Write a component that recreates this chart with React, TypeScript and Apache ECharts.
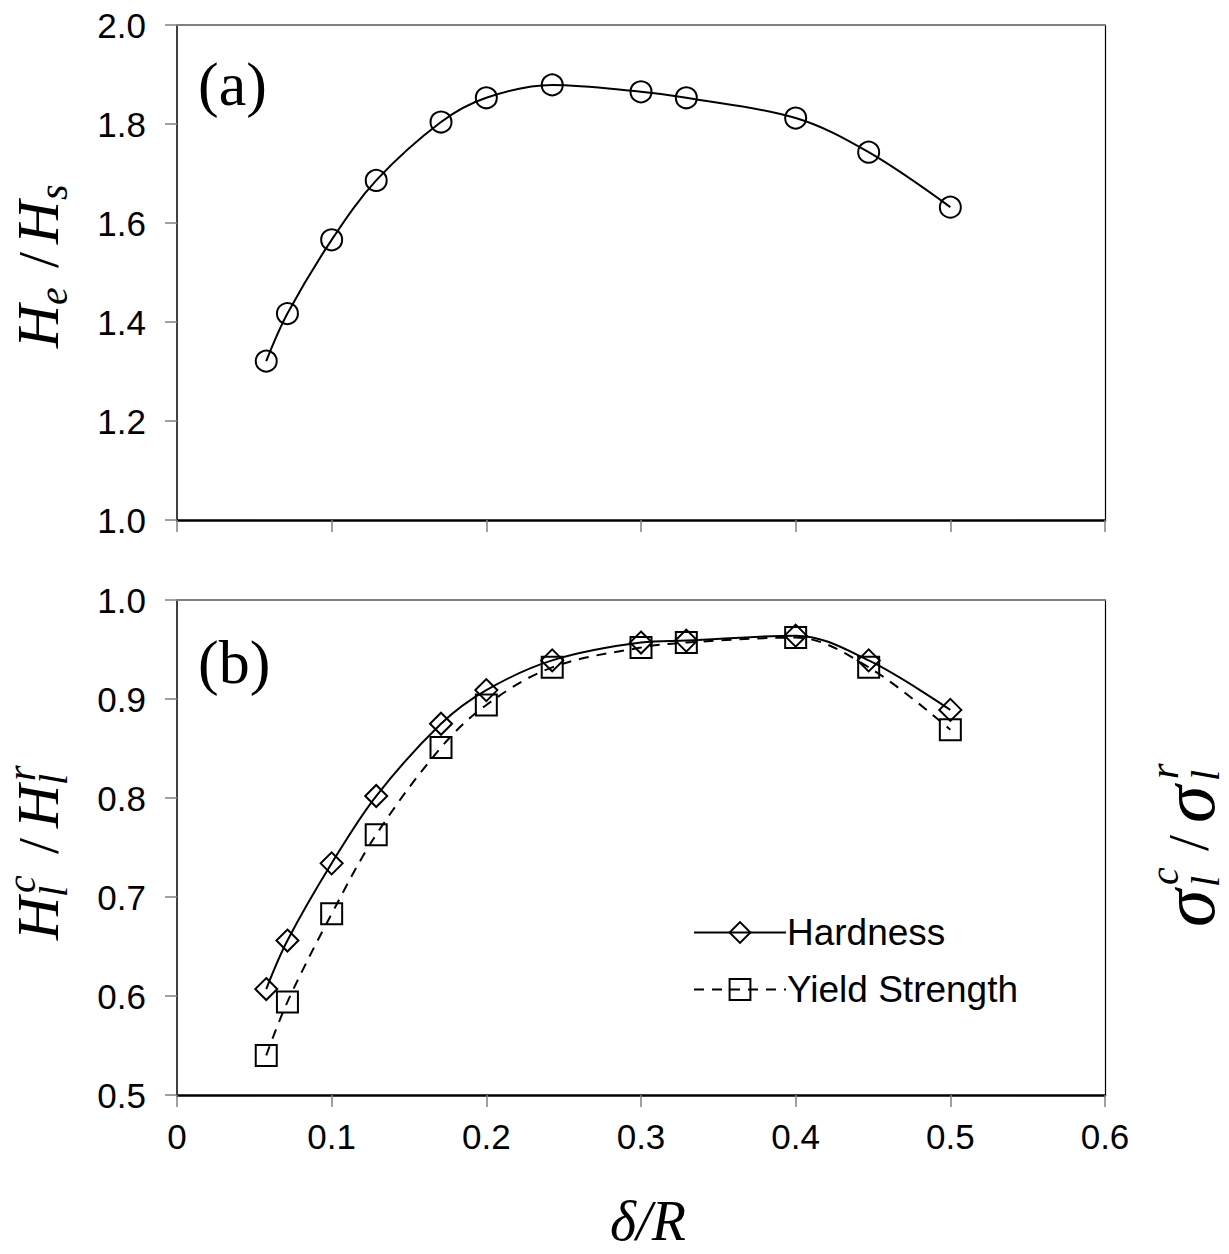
import React, { useEffect, useRef } from "react";
import * as echarts from "echarts";

const deltaR = [0.0577, 0.0714, 0.1, 0.1288, 0.1707, 0.2, 0.2426, 0.3, 0.3293, 0.4, 0.4472, 0.5];
const heHs = [1.321, 1.417, 1.566, 1.686, 1.804, 1.853, 1.879, 1.865, 1.853, 1.812, 1.743, 1.632];
const hardness = [0.607, 0.656, 0.734, 0.802, 0.875, 0.909, 0.939, 0.957, 0.959, 0.964, 0.939, 0.889];
const yieldStrength = [0.54, 0.594, 0.683, 0.763, 0.851, 0.894, 0.932, 0.952, 0.957, 0.962, 0.932, 0.869];
const xTicks = { min: 0, max: 0.6, interval: 0.1 };
const topY = { min: 1.0, max: 2.0, interval: 0.2 };
const botY = { min: 0.5, max: 1.0, interval: 0.1 };

const SERIF = "'Liberation Serif', 'Times New Roman', serif";
const SANS = "'Liberation Sans', Arial, sans-serif";

type Part = { t: string; dx: number; dy: number; fs: number; italic?: boolean };

function rotatedLabel(x: number, y: number, parts: Part[]) {
  return {
    type: "group",
    x,
    y,
    rotation: Math.PI / 2,
    children: parts.map((p) => ({
      type: "text",
      x: p.dx,
      y: p.dy,
      style: {
        text: p.t,
        font: `${p.italic === false ? "normal" : "italic"} ${p.fs}px ${SERIF}`,
        fill: "#000",
        align: "left",
        verticalAlign: "middle",
      },
    })),
  };
}

export default function App() {
  const ref = useRef<HTMLDivElement>(null);
  useEffect(() => {
    document.body.style.margin = "0";
    const chart = echarts.init(ref.current!, undefined, { renderer: "svg" });
    const pairs = (ys: number[]) => deltaR.map((x, i) => [x, ys[i]]);
    const xAxisBase = (gridIndex: number, showLabels: boolean) => ({
      type: "value",
      gridIndex,
      min: xTicks.min,
      max: xTicks.max,
      interval: xTicks.interval,
      axisLine: { show: true, onZero: false, lineStyle: { color: "#000", width: 2.5 } },
      axisTick: { show: true, length: 12, lineStyle: { color: "#808080", width: 1.5 } },
      axisLabel: {
        show: showLabels,
        margin: 24,
        fontSize: 35,
        fontFamily: SANS,
        color: "#000",
        formatter: (v: number) => (v === 0 ? "0" : v.toFixed(1)),
      },
      splitLine: { show: false },
      ...(showLabels
        ? {
            name: "δ/R",
            nameLocation: "middle",
            nameGap: 98,
            nameTextStyle: { fontFamily: SERIF, fontStyle: "italic", fontSize: 56, color: "#000", padding: [0, 0, 0, 14] },
          }
        : {}),
    });
    const yAxisBase = (gridIndex: number, r: { min: number; max: number; interval: number }) => ({
      type: "value",
      gridIndex,
      min: r.min,
      max: r.max,
      interval: r.interval,
      axisLine: { show: true, onZero: false, lineStyle: { color: "#000", width: 1.5 } },
      axisTick: { show: true, length: 12, lineStyle: { color: "#808080", width: 1.5 } },
      axisLabel: {
        margin: 31,
        fontSize: 35,
        fontFamily: SANS,
        color: "#000",
        formatter: (v: number) => v.toFixed(1),
      },
      splitLine: { show: false },
    });
    const frameX = (gridIndex: number) => ({
      type: "value",
      gridIndex,
      position: "top",
      min: xTicks.min,
      max: xTicks.max,
      axisLine: { show: true, onZero: false, lineStyle: { color: "#808080", width: 2 } },
      axisTick: { show: false },
      axisLabel: { show: false },
      splitLine: { show: false },
    });
    const frameY = (gridIndex: number, r: { min: number; max: number }) => ({
      type: "value",
      gridIndex,
      position: "right",
      min: r.min,
      max: r.max,
      axisLine: { show: true, onZero: false, lineStyle: { color: "#000", width: 1.2 } },
      axisTick: { show: false },
      axisLabel: { show: false },
      splitLine: { show: false },
    });
    const markerStyle = { color: "rgba(0,0,0,0)", borderColor: "#000", borderWidth: 2 };

    chart.setOption({
      animation: false,
      backgroundColor: "#fff",
      grid: [
        { left: 177, right: 124, top: 25, height: 495 },
        { left: 177, right: 124, top: 600, height: 495 },
      ],
      xAxis: [xAxisBase(0, false), xAxisBase(1, true), frameX(0), frameX(1)],
      yAxis: [yAxisBase(0, topY), yAxisBase(1, botY), frameY(0, topY), frameY(1, botY)],
      legend: {
        orient: "vertical",
        left: 688,
        top: 909,
        itemWidth: 92,
        itemHeight: 26,
        itemGap: 20,
        textStyle: { fontFamily: SANS, fontSize: 37, color: "#000", padding: [0, 0, 0, -4] },
        data: ["Hardness", "Yield Strength"],
      },
      series: [
        {
          name: "He/Hs",
          type: "line",
          xAxisIndex: 0,
          yAxisIndex: 0,
          data: pairs(heHs),
          smooth: 0.35,
          symbol: "circle",
          symbolSize: 21,
          lineStyle: { color: "#000", width: 2 },
          itemStyle: markerStyle,
        },
        {
          name: "Hardness",
          type: "line",
          xAxisIndex: 1,
          yAxisIndex: 1,
          data: pairs(hardness),
          smooth: 0.35,
          symbol: "diamond",
          symbolSize: 22,
          lineStyle: { color: "#000", width: 2 },
          itemStyle: markerStyle,
        },
        {
          name: "Yield Strength",
          type: "line",
          xAxisIndex: 1,
          yAxisIndex: 1,
          data: pairs(yieldStrength),
          smooth: 0.35,
          symbol: "rect",
          symbolSize: 21,
          lineStyle: { color: "#000", width: 2, type: [10, 8] },
          itemStyle: markerStyle,
        },
      ],
      graphic: [
        {
          type: "text",
          x: 198,
          y: 84,
          style: { text: "(a)", font: `normal 62px ${SERIF}`, fill: "#000", verticalAlign: "middle" },
        },
        {
          type: "text",
          x: 198,
          y: 662,
          style: { text: "(b)", font: `normal 62px ${SERIF}`, fill: "#000", verticalAlign: "middle" },
        },
        rotatedLabel(38, 348, [
          { t: "H", dx: 0, dy: 0, fs: 60 },
          { t: "e", dx: 43, dy: 15, fs: 40 },
          { t: "/", dx: 80, dy: 0, fs: 58, italic: false },
          { t: "H", dx: 104, dy: 0, fs: 60 },
          { t: "s", dx: 148, dy: 15, fs: 40 },
        ]),
        rotatedLabel(38, 940, [
          { t: "H", dx: 0, dy: 0, fs: 60 },
          { t: "l", dx: 43, dy: 15, fs: 40 },
          { t: "c", dx: 47, dy: -17, fs: 40 },
          { t: "/", dx: 86, dy: 0, fs: 58, italic: false },
          { t: "H", dx: 112, dy: 0, fs: 60 },
          { t: "l", dx: 155, dy: 15, fs: 40 },
          { t: "r", dx: 159, dy: -17, fs: 40 },
        ]),
        rotatedLabel(1188, 927, [
          { t: "σ", dx: 0, dy: 0, fs: 76 },
          { t: "l", dx: 40, dy: 17, fs: 40 },
          { t: "c", dx: 42, dy: -24, fs: 40 },
          { t: "/", dx: 76, dy: 0, fs: 58, italic: false },
          { t: "σ", dx: 104, dy: 0, fs: 76 },
          { t: "l", dx: 146, dy: 17, fs: 40 },
          { t: "r", dx: 148, dy: -24, fs: 40 },
        ]),
      ],
    });
    return () => chart.dispose();
  }, []);
  return <div ref={ref} style={{ width: 1229, height: 1254 }} />;
}
